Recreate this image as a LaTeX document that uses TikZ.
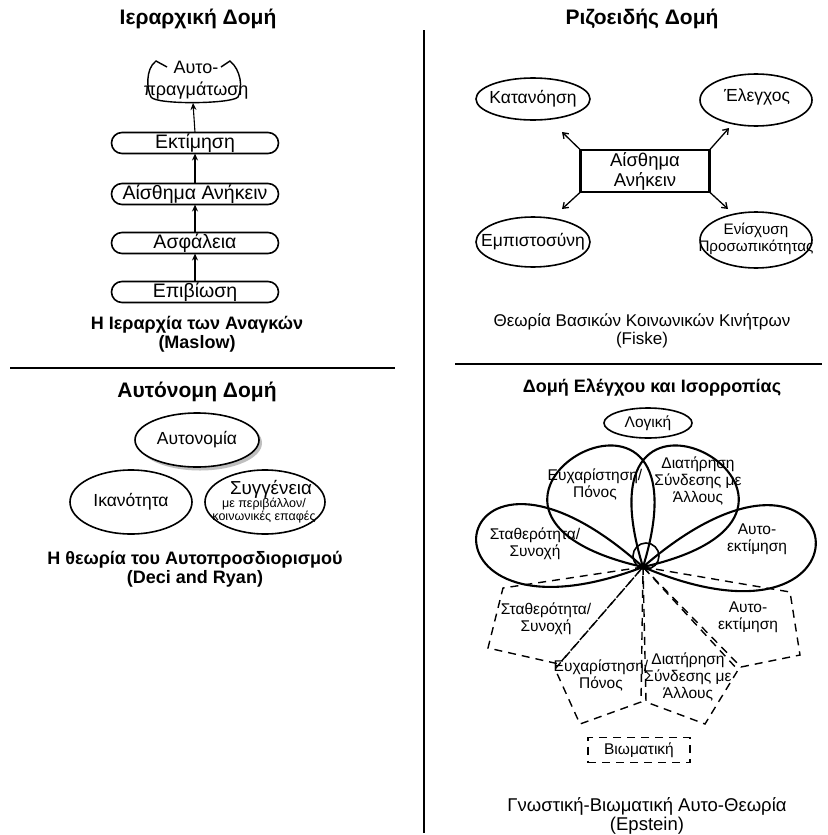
\documentclass[tikz,border=0pt]{standalone}
\usepackage{fontspec}
\setmainfont{Liberation Sans}
\usetikzlibrary{arrows.meta,shapes.geometric,shapes.misc}
\begin{document}
\begin{tikzpicture}[x=1pt,y=-1pt,
  every node/.style={inner sep=0pt, outer sep=0pt},
  ttl/.style={font=\fontsize{21}{24}\selectfont\bfseries},
  captb/.style={font=\fontsize{18}{19}\selectfont\bfseries, align=center},
  captr/.style={font=\fontsize{17}{18.5}\selectfont, align=center},
  lvl/.style={draw, line width=1.6pt, rounded rectangle, minimum width=167, minimum height=21, font=\fontsize{19.5}{21}\selectfont},
  arr/.style={line width=1.1pt, -{Stealth[open, length=7pt, width=6pt]}},
  arrb/.style={line width=1.3pt, -{Straight Barb[length=5pt, width=7pt]}},
  ell/.style={draw, line width=1.6pt, ellipse},
  txt/.style={font=\fontsize{17.5}{20}\selectfont, align=center},
  ptxt/.style={font=\fontsize{15.5}{17}\selectfont, align=center},
  petal/.style={line width=2.1pt},
  dsh/.style={line width=1.4pt, dash pattern=on 8pt off 6pt},
  sepline/.style={line width=1.7pt}
]
\useasboundingbox (0,0) rectangle (827,835);

% separators
\draw[sepline] (424,30) -- (424,833);
\draw[sepline] (10,368) -- (395,368);
\draw[sepline] (455,364) -- (822,364);

% ---------- top left ----------
\node[ttl] (t1) at (198,19) {Ιεραρχική Δομή};
\node[lvl] (epi) at (195,292) {Επιβίωση};
\node[lvl] (asf) at (195,243) {Ασφάλεια};
\node[lvl] (ais) at (195,194) {Αίσθημα Ανήκειν};
\node[lvl] (ekt) at (195,143) {Εκτίμηση};
\node[txt, font=\fontsize{18}{21.5}\selectfont] (aut) at (196,80) {Αυτο-\\πραγμάτωση};
\coordinate (autb) at (193,103);
\draw[line width=1.4pt] (167,67) -- (156,61) .. controls (145,69) and (147,90) .. (151,97)
   .. controls (156,105) and (232,104) .. (238,97) .. controls (243,88) and (241,70) .. (230,61) -- (221,67);
\draw[arr] (epi.north) -- (asf.south);
\draw[arr] (asf.north) -- (ais.south);
\draw[arr] (ais.north) -- (ekt.south);
\draw[arr] (ekt.north) -- (autb);
\node[captb] (c1) at (197,334) {Η Ιεραρχία των Αναγκών\\(Maslow)};

% ---------- top right ----------
\node[ttl] (t2) at (642,19) {Ριζοειδής Δομή};
\node[ell, minimum width=114, minimum height=42] (kat) at (533,99) {};
\node[txt] at (kat) {Κατανόηση};
\node[ell, minimum width=112, minimum height=52] (ele) at (756,100) {};
\node[txt] at (757,97) {Έλεγχος};
\node[ell, minimum width=114, minimum height=50] (emp) at (533,242) {};
\node[txt] at (emp) {Εμπιστοσύνη};
\node[ell, minimum width=112, minimum height=56] (eni) at (756,240) {};
\node[txt, font=\fontsize{15.2}{17}\selectfont] at (756,239) {Ενίσχυση\\Προσωπικότητας};
\node[draw, line width=2.8pt, minimum width=129, minimum height=42, txt, font=\fontsize{18.5}{20}\selectfont] (ain) at (645,171) {Αίσθημα\\Ανήκειν};
\coordinate (akat) at (562,132);
\coordinate (aele) at (729,128);
\coordinate (aemp) at (562,209);
\coordinate (aeni) at (728,209);
\draw[arrb] (ain.north west) -- (akat);
\draw[arrb] (ain.north east) -- (aele);
\draw[arrb] (ain.south west) -- (aemp);
\draw[arrb] (ain.south east) -- (aeni);
\node[captr] (c2) at (642,331) {Θεωρία Βασικών Κοινωνικών Κινήτρων\\(Fiske)};

% ---------- bottom left ----------
\node[ttl] (t3) at (197,392) {Αυτόνομη Δομή};
\node[ellipse, fill=gray!50, minimum width=124, minimum height=55] (auts) at (200,443) {};
\node[ell, fill=white, minimum width=124, minimum height=54] (autn) at (197,440) {};
\node[txt] at (autn) {Αυτονομία};
\node[ell, minimum width=122, minimum height=64] (ika) at (131,502) {};
\node[txt] at (ika) {Ικανότητα};
\node[ell, minimum width=120, minimum height=64] (syg) at (265,502) {};
\node[txt, font=\fontsize{18.8}{20}\selectfont] at (271,489) {Συγγένεια};
\node[txt, font=\fontsize{12.5}{13}\selectfont] at (264,511) {με περιβάλλον/\\κοινωνικές επαφές};
\node[captb] (c3) at (195,569) {Η θεωρία του Αυτοπροσδιορισμού\\(Deci and Ryan)};

% ---------- bottom right ----------
\node[font=\fontsize{18}{20}\selectfont\bfseries] (t4) at (652,388) {Δομή Ελέγχου και Ισορροπίας};
\node[ell, minimum width=88, minimum height=30] (log) at (648,423) {};
\node[ptxt] at (log) {Λογική};
\coordinate (O) at (643,567);
% petals
\draw[petal] (O) .. controls (443,387) and (399,660) .. (O);
\draw[petal] (O) .. controls (853,385) and (893,673) .. (O);
\draw[petal] (O) .. controls (718,324) and (394,511) .. (O);
\draw[petal] (O) .. controls (892,511) and (568,324) .. (O);
\node[draw, circle, line width=1.6pt, minimum size=26] (cc) at (646,556) {};
% petal labels
\node[ptxt] at (595,484) {Ευχαρίστηση/\\Πόνος};
\node[ptxt] at (698,481) {Διατήρηση\\Σύνδεσης με\\Άλλους};
\node[ptxt] at (535,544) {Σταθερότητα/\\Συνοχή};
\node[ptxt] at (757,539) {Αυτο-\\εκτίμηση};
% dashed kites
\draw[dsh] (O) -- (503,588) -- (488,648) -- (559,664) -- cycle;
\draw[dsh] (O) -- (555,669) -- (580,724) -- (641,702) -- cycle;
\draw[dsh] (O) -- (646,702) -- (705,724) -- (738,670) -- cycle;
\draw[dsh] (O) -- (741,667) -- (800,655) -- (790,592) -- cycle;
\node[ptxt] at (546,619) {Σταθερότητα/\\Συνοχή};
\node[ptxt] at (748,617) {Αυτο-\\εκτίμηση};
\node[ptxt] at (601,675) {Ευχαρίστηση/\\Πόνος};
\node[ptxt] at (688,677) {Διατήρηση\\Σύνδεσης με\\Άλλους};
\node[draw, dsh, minimum width=102, minimum height=25, ptxt] (bio) at (639,750) {Βιωματική};
\node[captr, font=\fontsize{18.5}{19}\selectfont] (c4) at (647,816) {Γνωστική-Βιωματική Αυτο-Θεωρία\\(Epstein)};
\end{tikzpicture}
\end{document}
